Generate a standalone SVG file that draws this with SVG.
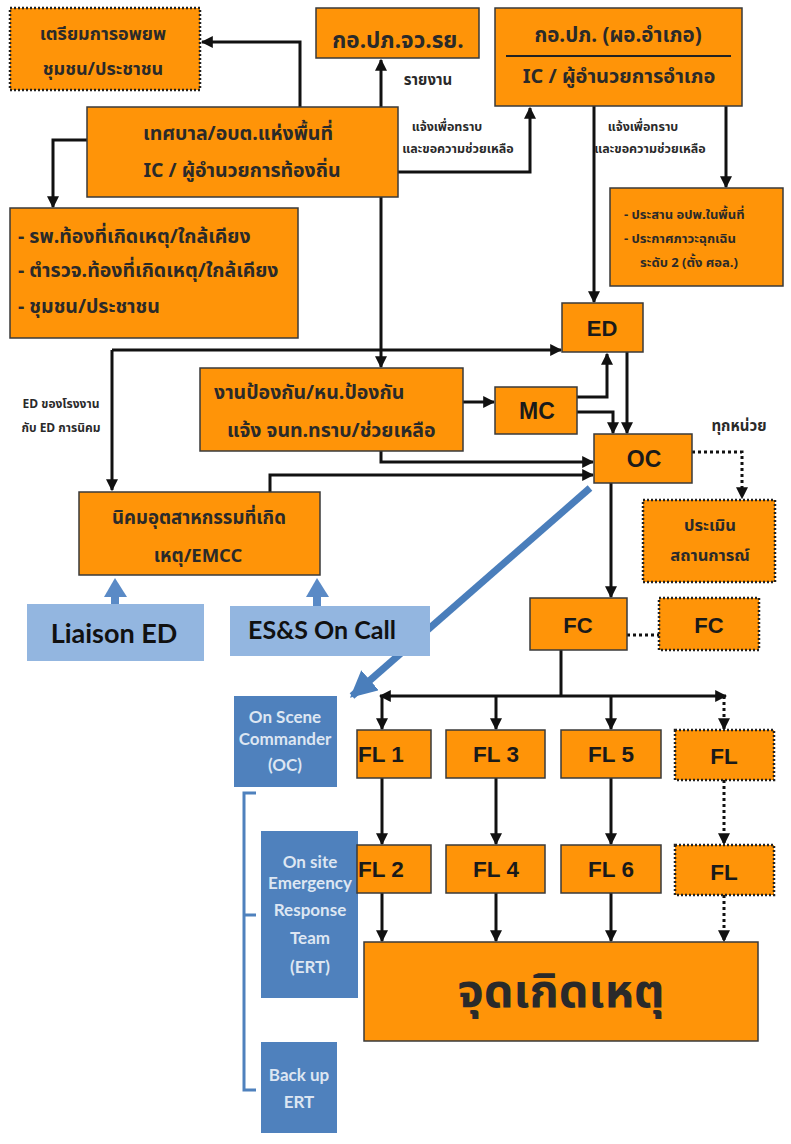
<svg xmlns="http://www.w3.org/2000/svg" width="791" height="1144" viewBox="0 0 791 1144">
<defs>
<marker id="ah" viewBox="0 0 10 10" refX="9" refY="5" markerWidth="4" markerHeight="4" orient="auto-start-reverse" markerUnits="strokeWidth"><path d="M0,0 L10,5 L0,10 z" fill="#111"/></marker>
<marker id="bh" viewBox="0 0 10 10" refX="9" refY="5" markerWidth="3.8" markerHeight="3.8" orient="auto" markerUnits="strokeWidth"><path d="M0,0 L10,5 L0,10 z" fill="#4a7ebb"/></marker>
</defs>
<style>
.o{fill:#ff9408;stroke:#3a3a3a;stroke-width:1.5}
.od{fill:#ff9408;stroke:#222;stroke-width:2.5;stroke-dasharray:2 2}
.lb{fill:#93b6e0}
.db{fill:#4f81bd}
.th{font-family:"Noto Sans Thai","Tahoma","DejaVu Sans","Noto Sans",sans-serif;font-weight:bold;fill:#2a2a2a}
.en{font-family:"Liberation Sans",Arial,sans-serif;font-weight:bold;fill:#1a1a1a}
.ca{font-family:Lato,"Open Sans",sans-serif;font-weight:bold;fill:#111}
.wt{font-family:Lato,"Open Sans",sans-serif;font-weight:bold;fill:#dde6f2;font-size:17px}
.c{stroke:#111;stroke-width:3;fill:none}
.cd{stroke:#111;stroke-width:3;fill:none;stroke-dasharray:3 3}
.a{marker-end:url(#ah)}
</style>
<rect width="791" height="1144" fill="#fff"/>

<g id="connectors">
<path class="c a" d="M300,107 V42 H202"/>
<path class="c a" d="M381,110 V60"/>
<path class="c a" d="M381,197 V367"/>
<path class="c a" d="M398,172 H530 V108"/>
<path class="c a" d="M594,106 V302"/>
<path class="c a" d="M726,106 V187"/>
<path class="c a" d="M87,140 H53 V207"/>
<path class="c a" d="M112,350 H561"/>
<path class="c a" d="M112,350 V490"/>
<path class="c a" d="M463,402 H494"/>
<path class="c a" d="M381,451 V462 H593"/>
<path class="c a" d="M270,492 V475 H593"/>
<path class="c a" d="M577,397 H607 V354"/>
<path class="c a" d="M577,412 H613 V433"/>
<path class="c a" d="M627,352 V433"/>
<path class="cd a" d="M692,452 H742 V498"/>
<path class="c a" d="M611,483 V597"/>
<path class="cd" d="M627,635 H659"/>
<path class="c" d="M561,650 V696"/>
<path class="c a" d="M561,696 H380"/>
<path class="c a" d="M561,696 H726"/>
<path class="c a" d="M382,696 V729"/>
<path class="c a" d="M496,696 V729"/>
<path class="c a" d="M611,696 V729"/>
<path class="cd a" d="M724,696 V729"/>
<path class="c a" d="M382,778 V844"/>
<path class="c a" d="M496,778 V844"/>
<path class="c a" d="M611,778 V844"/>
<path class="cd a" d="M724,780 V844"/>
<path class="c a" d="M382,893 V941"/>
<path class="c a" d="M496,893 V941"/>
<path class="c a" d="M611,893 V941"/>
<path class="cd a" d="M724,895 V941"/>
<path d="M590,488 L352,696" stroke="#4a7ebb" stroke-width="7" fill="none" marker-end="url(#bh)"/>
<path d="M115,604 V592" stroke="#5a8ac6" stroke-width="8" fill="none"/>
<path d="M104,597 L115,578 L127,597 z" fill="#5a8ac6"/>
<path d="M317,606 V592" stroke="#5a8ac6" stroke-width="8" fill="none"/>
<path d="M306,597 L317,578 L329,597 z" fill="#5a8ac6"/>
<path d="M256,793 H244 V1090 H256 M244,915 H256" stroke="#4f81bd" stroke-width="3" fill="none"/>
</g>

<g id="n-evac"><rect class="od" x="10" y="8" width="190" height="82"/>
<text class="th" font-size="18" text-anchor="middle" x="103" y="40">เตรียมการอพยพ</text>
<text class="th" font-size="18" text-anchor="middle" x="103" y="75">ชุมชน/ประชาชน</text></g>

<g id="n-province"><rect class="o" x="316" y="8" width="163" height="50"/>
<text class="th" font-size="22.5" text-anchor="middle" x="398" y="48">กอ.ปภ.จว.รย.</text></g>
<text class="th" font-size="15" text-anchor="middle" x="428" y="85" font-weight="normal">รายงาน</text>

<g id="n-district"><rect class="o" x="495" y="8" width="247" height="98"/>
<line x1="506" y1="56" x2="731" y2="56" stroke="#222" stroke-width="2"/>
<text class="th" font-size="20.5" text-anchor="middle" x="618" y="42">กอ.ปภ. (ผอ.อำเภอ)</text>
<text class="th" font-size="20" text-anchor="middle" x="619" y="83">IC / ผู้อำนวยการอำเภอ</text></g>

<g id="n-local"><rect class="o" x="87" y="107" width="311" height="90"/>
<text class="th" font-size="19.5" text-anchor="middle" x="238" y="140">เทศบาล/อบต.แห่งพื้นที่</text>
<text class="th" font-size="19.5" text-anchor="middle" x="242" y="177">IC / ผู้อำนวยการท้องถิ่น</text></g>

<text class="th" font-size="12.5" text-anchor="middle" x="447" y="131">แจ้งเพื่อทราบ</text>
<text class="th" font-size="12.5" text-anchor="middle" x="458" y="153">และขอความช่วยเหลือ</text>
<text class="th" font-size="12.5" text-anchor="middle" x="643" y="131">แจ้งเพื่อทราบ</text>
<text class="th" font-size="12.5" text-anchor="middle" x="650" y="153">และขอความช่วยเหลือ</text>

<g id="n-hospital"><rect class="o" x="10" y="208" width="288" height="130"/>
<text class="th" font-size="19.5" x="18" y="243">- รพ.ท้องที่เกิดเหตุ/ใกล้เคียง</text>
<text class="th" font-size="19.5" x="18" y="277">- ตำรวจ.ท้องที่เกิดเหตุ/ใกล้เคียง</text>
<text class="th" font-size="19.5" x="18" y="313">- ชุมชน/ประชาชน</text></g>

<g id="n-coord"><rect class="o" x="610" y="188" width="173" height="98"/>
<text class="th" font-size="13" x="624" y="219">- ประสาน อปพ.ในพื้นที่</text>
<text class="th" font-size="13" x="624" y="243">- ประกาศภาวะฉุกเฉิน</text>
<text class="th" font-size="13" x="640" y="267">ระดับ 2 (ตั้ง ศอล.)</text></g>

<g id="n-ed"><rect class="o" x="562" y="303" width="81" height="49"/>
<text class="en" font-size="22" text-anchor="middle" x="602" y="336">ED</text></g>

<text class="th" font-size="12" text-anchor="middle" x="61" y="408">ED ของโรงงาน</text>
<text class="th" font-size="12" text-anchor="middle" x="61" y="432">กับ ED การนิคม</text>

<g id="n-prevent"><rect class="o" x="200" y="368" width="263" height="83"/>
<text class="th" font-size="19.5" x="214" y="399">งานป้องกัน/หน.ป้องกัน</text>
<text class="th" font-size="19.5" x="227" y="437">แจ้ง จนท.ทราบ/ช่วยเหลือ</text></g>

<g id="n-mc"><rect class="o" x="495" y="387" width="82" height="47"/>
<text class="en" font-size="23" text-anchor="middle" x="537" y="419">MC</text></g>

<g id="n-oc"><rect class="o" x="594" y="434" width="98" height="49"/>
<text class="en" font-size="23" text-anchor="middle" x="644" y="467">OC</text></g>
<text class="th" font-size="15" text-anchor="middle" x="739" y="431" font-weight="normal" fill="#444">ทุกหน่วย</text>

<g id="n-assess"><rect class="od" x="643" y="500" width="132" height="82"/>
<text class="th" font-size="16.5" text-anchor="middle" x="710" y="531">ประเมิน</text>
<text class="th" font-size="16.5" text-anchor="middle" x="710" y="561">สถานการณ์</text></g>

<g id="n-estate"><rect class="o" x="79" y="492" width="241" height="83"/>
<text class="th" font-size="18.5" text-anchor="middle" x="199" y="524">นิคมอุตสาหกรรมที่เกิด</text>
<text class="th" font-size="18.5" text-anchor="middle" x="198" y="562">เหตุ/EMCC</text></g>

<g id="n-liaison"><rect class="lb" x="27" y="604" width="177" height="57"/>
<text class="ca" font-size="27" text-anchor="middle" x="114" y="643">Liaison ED</text></g>

<g id="n-ess"><rect class="lb" x="230" y="606" width="200" height="50"/>
<text class="ca" font-size="25" text-anchor="middle" x="322" y="639" fill="#1c2a3a">ES&amp;S On Call</text></g>

<g id="n-fc"><rect class="o" x="530" y="598" width="97" height="52"/>
<text class="en" font-size="22" text-anchor="middle" x="578" y="633">FC</text></g>
<g id="n-fc2"><rect class="od" x="659" y="598" width="100" height="52"/>
<text class="en" font-size="22" text-anchor="middle" x="709" y="633">FC</text></g>

<g id="n-osc"><rect class="db" x="234" y="696" width="103" height="91"/>
<text class="wt" text-anchor="middle" x="285" y="723">On Scene</text>
<text class="wt" text-anchor="middle" x="285" y="745">Commander</text>
<text class="wt" text-anchor="middle" x="285" y="771">(OC)</text></g>

<g id="n-fl1"><rect class="o" x="357" y="730" width="74" height="48"/>
<text class="en" font-size="22.5" x="358" y="762">FL 1</text></g>
<g id="n-fl3"><rect class="o" x="446" y="730" width="99" height="48"/>
<text class="en" font-size="22.5" text-anchor="middle" x="496" y="762">FL 3</text></g>
<g id="n-fl5"><rect class="o" x="561" y="730" width="100" height="48"/>
<text class="en" font-size="22.5" text-anchor="middle" x="611" y="762">FL 5</text></g>
<g id="n-flx"><rect class="od" x="675" y="730" width="99" height="50"/>
<text class="en" font-size="22.5" text-anchor="middle" x="724" y="764">FL</text></g>

<g id="n-ert"><rect class="db" x="261" y="831" width="97" height="167"/>
<text class="wt" text-anchor="middle" x="310" y="868">On site</text>
<text class="wt" text-anchor="middle" x="310" y="889">Emergency</text>
<text class="wt" text-anchor="middle" x="310" y="916">Response</text>
<text class="wt" text-anchor="middle" x="310" y="944">Team</text>
<text class="wt" text-anchor="middle" x="310" y="973">(ERT)</text></g>

<g id="n-fl2"><rect class="o" x="357" y="845" width="74" height="48"/>
<text class="en" font-size="22.5" x="358" y="877">FL 2</text></g>
<g id="n-fl4"><rect class="o" x="446" y="845" width="99" height="48"/>
<text class="en" font-size="22.5" text-anchor="middle" x="496" y="877">FL 4</text></g>
<g id="n-fl6"><rect class="o" x="561" y="845" width="100" height="48"/>
<text class="en" font-size="22.5" text-anchor="middle" x="611" y="877">FL 6</text></g>
<g id="n-fly"><rect class="od" x="675" y="845" width="99" height="50"/>
<text class="en" font-size="22.5" text-anchor="middle" x="724" y="880">FL</text></g>

<g id="n-site"><rect class="o" x="364" y="942" width="394" height="99"/>
<text class="th" font-size="47" text-anchor="middle" x="561" y="1007" fill="#1a1a1a">จุดเกิดเหตุ</text></g>

<g id="n-backup"><rect class="db" x="261" y="1042" width="76" height="91"/>
<text class="wt" text-anchor="middle" x="299" y="1081">Back up</text>
<text class="wt" text-anchor="middle" x="299" y="1108">ERT</text></g>
</svg>
